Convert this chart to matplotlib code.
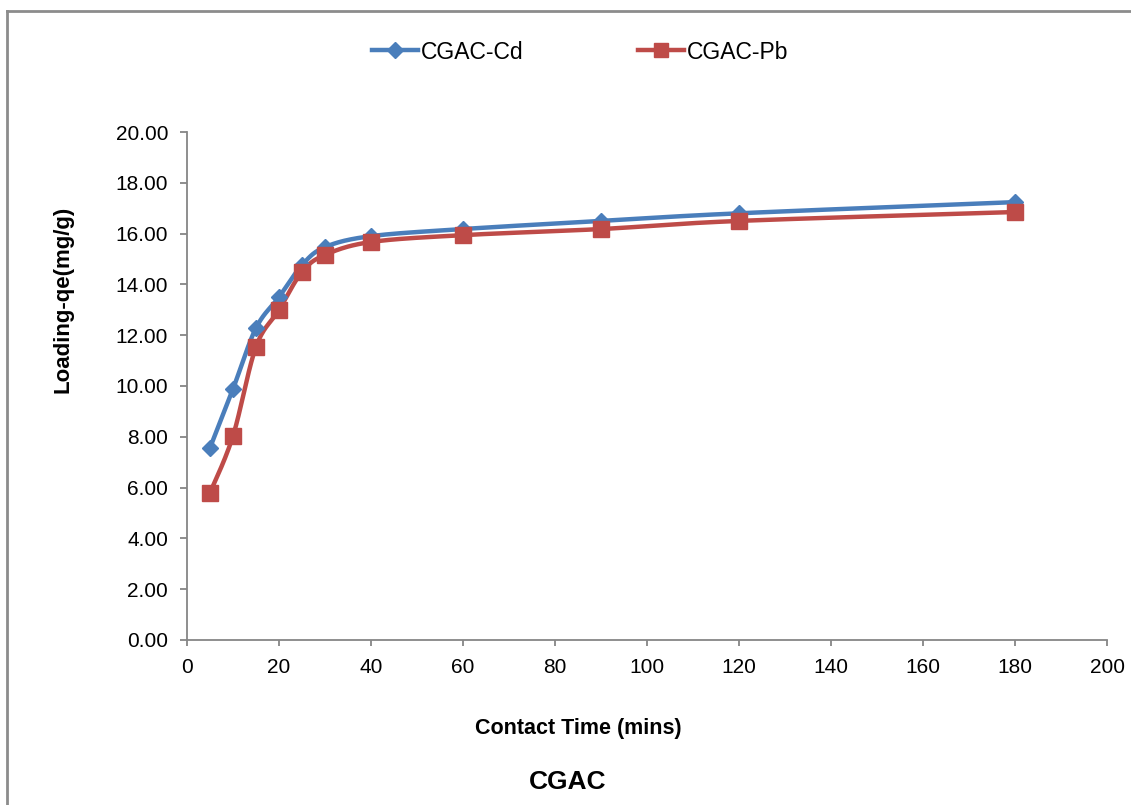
import numpy as np
import matplotlib
matplotlib.use("Agg")
import matplotlib.pyplot as plt
from matplotlib.lines import Line2D

plt.rcParams['font.family'] = ['Liberation Sans', 'DejaVu Sans']

time_min = [5, 10, 15, 20, 25, 30, 40, 60, 90, 120, 180]
cd_qe = [7.56, 9.88, 12.28, 13.50, 14.76, 15.47, 15.90, 16.18, 16.50, 16.80, 17.24]
pb_qe = [5.79, 8.03, 11.54, 12.99, 14.49, 15.16, 15.67, 15.94, 16.18, 16.50, 16.85]
series_names = ["CGAC-Cd", "CGAC-Pb"]
x_ticks = [0, 20, 40, 60, 80, 100, 120, 140, 160, 180, 200]
y_ticks = [0, 2, 4, 6, 8, 10, 12, 14, 16, 18, 20]

BLUE = "#4A7EBB"
RED = "#BE4B48"

fig = plt.figure(figsize=(11.31, 8.05), dpi=100)
ax = fig.add_axes([0.1653, 0.2050, 0.8135, 0.6310])
ax.set_xlim(0, 200)
ax.set_ylim(0, 20)


def smooth(xs, ys, sx, sy, n=30):
    # Catmull-Rom style Bezier smoothing (spreadsheet "smoothed line") in scaled space
    P = np.column_stack([np.asarray(xs, float) * sx, np.asarray(ys, float) * sy])
    out = []
    m = len(P)
    for i in range(m - 1):
        p0 = P[i - 1] if i > 0 else P[i]
        p1 = P[i]
        p2 = P[i + 1]
        p3 = P[i + 2] if i + 2 < m else P[i + 1]
        c1 = p1 + (p2 - p0) / 6.0
        c2 = p2 - (p3 - p1) / 6.0
        t = np.linspace(0, 1, n)[:, None]
        seg = ((1 - t) ** 3) * p1 + 3 * ((1 - t) ** 2) * t * c1 + 3 * (1 - t) * t ** 2 * c2 + t ** 3 * p2
        if i > 0:
            seg = seg[1:]
        out.append(seg)
    S = np.vstack(out)
    return S[:, 0] / sx, S[:, 1] / sy


sx, sy = 920 / 200.0, 508 / 20.0
for ys, col, mk, ms in [(cd_qe, BLUE, 'D', 8.5), (pb_qe, RED, 's', 12)]:
    xs_s, ys_s = smooth(time_min, ys, sx, sy)
    ax.plot(xs_s, ys_s, color=col, lw=3.2, solid_capstyle='round', zorder=2)
    ax.plot(time_min, ys, linestyle='none', marker=mk, markersize=ms,
            color=col, markeredgecolor=col, markeredgewidth=1, zorder=3)

ax.set_xticks(x_ticks)
ax.set_yticks(y_ticks)
ax.set_yticklabels([f"{v:.2f}" for v in y_ticks])
for s in ['top', 'right']:
    ax.spines[s].set_visible(False)
for s in ['left', 'bottom']:
    ax.spines[s].set_color('#868686')
    ax.spines[s].set_linewidth(1.3)
ax.tick_params(axis='both', direction='out', width=1.3, color='#868686',
               labelsize=15, labelcolor='black')
ax.tick_params(axis='x', length=4.3, pad=8.5)
ax.tick_params(axis='y', length=5, pad=8.5)

ax.set_xlabel("Contact Time (mins)", fontsize=15.5, fontweight='bold')
ax.xaxis.label.set_va('center')
ax.xaxis.set_label_coords(0.4255, -0.175)
ax.set_ylabel("Loading-qe(mg/g)", fontsize=16, fontweight='bold')
ax.yaxis.label.set_va('center')
ax.yaxis.set_label_coords(-0.135, 0.671)

fig.text(0.502, 0.0286, "CGAC", fontsize=19, fontweight='bold', ha='center', va='center')

handles = [
    Line2D([], [], color=BLUE, lw=3.2, marker='D', markersize=8),
    Line2D([], [], color=RED, lw=3.2, marker='s', markersize=10),
]
fig.legend(handles, series_names, loc='center', bbox_to_anchor=(0.513, 0.9354), ncol=2,
           frameon=False, fontsize=16.5, handlelength=2.0, handletextpad=0.13,
           columnspacing=5.0, borderpad=0, borderaxespad=0)

# outer chart border
fig.add_artist(plt.Line2D([0.0062, 0.0062], [0, 0.9863], transform=fig.transFigure,
                          color='#8c8c8c', lw=2))
fig.add_artist(plt.Line2D([0.0062, 1.0], [0.9863, 0.9863], transform=fig.transFigure,
                          color='#8c8c8c', lw=2))

fig.savefig("out.png", dpi=100, facecolor='white')
